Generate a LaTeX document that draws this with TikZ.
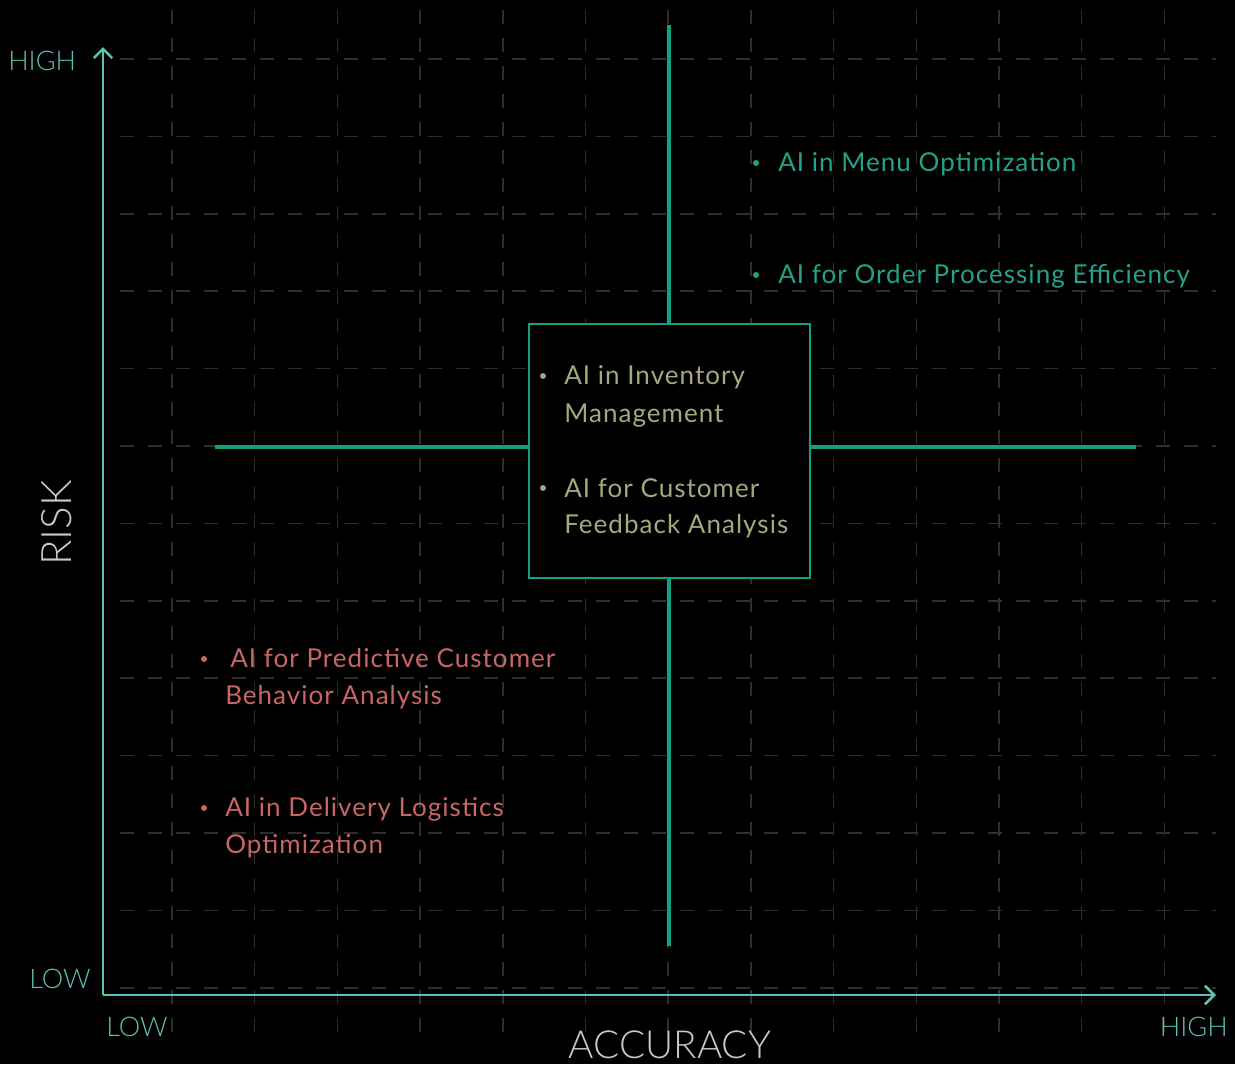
\documentclass[tikz,border=0pt]{standalone}
\usepackage{fontspec}
\setmainfont{Lato}[LetterSpace=4]
\newfontfamily\thinfont{Lato Light}
\usetikzlibrary{arrows.meta}

\definecolor{axiscol}{HTML}{5CC0B5}
\definecolor{quadcol}{HTML}{12A085}
\definecolor{gridcol}{HTML}{2E2E2E}
\definecolor{greentxt}{HTML}{26A189}
\definecolor{beigetxt}{HTML}{A8A67E}
\definecolor{redtxt}{HTML}{C96565}
\definecolor{labelgray}{HTML}{C8C8C8}

\tikzset{
  gridline/.style={draw=gridcol, line width=1.1pt, dash pattern=on 10.5pt off 10.5pt},
  axisline/.style={draw=axiscol, line width=1.9pt, -{Straight Barb[length=7pt, width=14pt, line width=1.9pt]}},
  quadline/.style={draw=quadcol, line width=2.3pt},
  corebox/.style={draw=quadcol, line width=2.2pt, fill=black, inner sep=0pt,
    minimum width=210.75pt, minimum height=190.5pt},
  item/.style={anchor=base west, inner sep=0pt, font=\fontsize{19.5}{22}\selectfont},
  bullet/.style={circle, fill, inner sep=0pt, minimum size=4.5pt},
  ticklabel/.style={anchor=base west, inner sep=0pt, text=axiscol, font=\thinfont\fontsize{20.3}{24}\selectfont},
  axistitle/.style={inner sep=0pt, text=labelgray, font=\thinfont\fontsize{29}{34}\selectfont}
}

\begin{document}
\begin{tikzpicture}[x=0.75pt, y=-0.75pt]
  % canvas
  \fill[black] (0,0) rectangle (1235,1064);
  \useasboundingbox (0,0) rectangle (1235,1064);

  % dashed background grid
  \foreach \k in {0,...,12} {
    \draw[gridline] (120,{59+77.4*\k}) -- (1216,{59+77.4*\k});
    \draw[gridline] ({172+82.7*\k},10) -- ({172+82.7*\k},1036);
  }

  % axes
  \coordinate (origin) at (103,995);
  \coordinate (ytip) at (103,47);
  \coordinate (xtip) at (1216,995);
  \draw[axisline] (origin) -- (ytip);
  \draw[axisline] (origin) -- (xtip);

  % central box and quadrant dividers
  \node[corebox] (core) at (669.5,451) {};
  \coordinate (qtop) at (669,25);
  \coordinate (qbot) at (669,946);
  \coordinate (qleft) at (215,447);
  \coordinate (qright) at (1136,447);
  \draw[quadline] (qtop) -- (qtop |- core.north);
  \draw[quadline] (qbot) -- (qbot |- core.south);
  \draw[quadline] (qleft) -- (qleft -| core.west);
  \draw[quadline] (qright) -- (qright -| core.east);

  % axis labels
  \node[ticklabel] (yhigh) at (8,70) {HIGH};
  \node[ticklabel] (ylow) at (29,988) {LOW};
  \node[ticklabel] (xlow) at (106,1036) {LOW};
  \node[ticklabel, anchor=base east] (xhigh) at (1228,1036) {HIGH};
  \node[axistitle, anchor=base] (xtitle) at (670,1058) {ACCURACY};
  \node[axistitle, anchor=base, rotate=90, font=\thinfont\fontsize{31.5}{36}\selectfont] (ytitle) at (71,523) {RISK};

  % high accuracy, high risk
  \node[bullet, fill=greentxt] (g1) at (756,163) {};
  \node[item, text=greentxt] (g1a) at (778,171) {AI in Menu Optimization};
  \node[bullet, fill=greentxt] (g2) at (756,275) {};
  \node[item, text=greentxt] (g2a) at (778,283) {AI for Order Processing Efficiency};

  % centre
  \node[bullet, fill=beigetxt] (b1) at (543,376) {};
  \node[item, text=beigetxt] (b1a) at (564,384) {AI in Inventory};
  \node[item, text=beigetxt] (b1b) at (564,422) {Management};
  \node[bullet, fill=beigetxt] (b2) at (543,488) {};
  \node[item, text=beigetxt] (b2a) at (564,497) {AI for Customer};
  \node[item, text=beigetxt] (b2b) at (564,533) {Feedback Analysis};

  % low accuracy, low risk
  \node[bullet, fill=redtxt] (r1) at (204,659) {};
  \node[item, text=redtxt] (r1a) at (230,667) {AI for Predictive Customer};
  \node[item, text=redtxt] (r1b) at (225,704) {Behavior Analysis};
  \node[bullet, fill=redtxt] (r2) at (204,808) {};
  \node[item, text=redtxt] (r2a) at (225,816) {AI in Delivery Logistics};
  \node[item, text=redtxt] (r2b) at (225,853) {Optimization};
\end{tikzpicture}
\end{document}
